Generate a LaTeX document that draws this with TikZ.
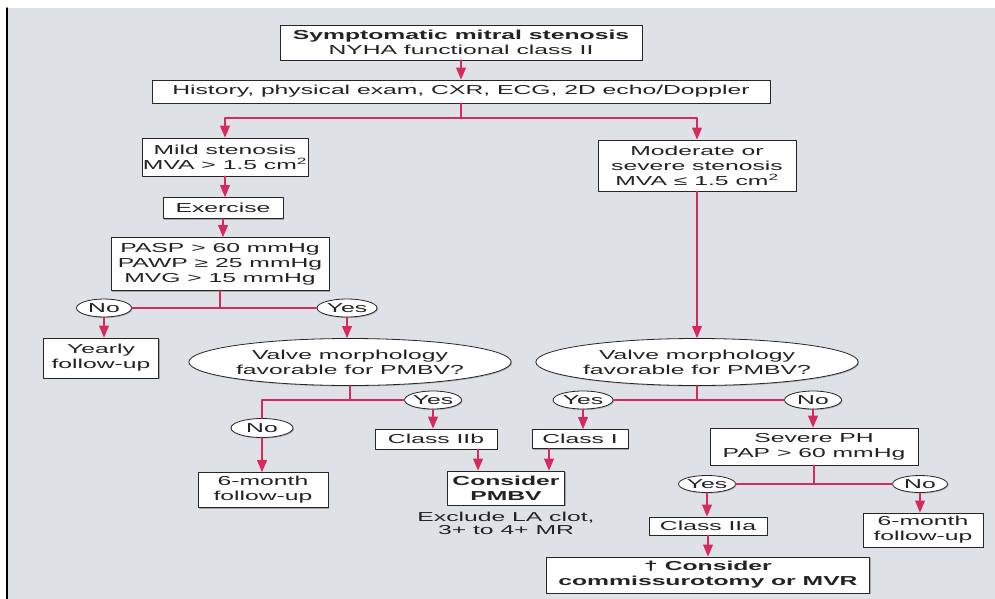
\documentclass[tikz,border=0pt]{standalone}
\usepackage{fontspec}
\setmainfont{Liberation Sans}[FakeStretch=1.9]
\usetikzlibrary{arrows}
\usetikzlibrary{shapes.geometric,shadows}
\definecolor{mvred}{RGB}{214,42,92}
\definecolor{mvbg}{RGB}{222,226,231}
\definecolor{mvink}{RGB}{35,35,35}
\tikzset{
  box/.style={draw=black!85,fill=white,line width=0.8pt,text=mvink,align=center,inner sep=1pt,
    font=\fontsize{13}{15}\selectfont,
    drop shadow={shadow xshift=1.2pt,shadow yshift=-1.2pt,fill=black!45,opacity=0.7}},
  oval/.style={ellipse,draw=black!85,fill=white,line width=0.8pt,text=mvink,align=center,inner sep=0pt,
    font=\fontsize{13}{15}\selectfont,
    drop shadow={shadow xshift=1pt,shadow yshift=-1pt,fill=black!45,opacity=0.6}},
  link/.style={draw=mvred,line width=1.8pt}
}
\begin{document}
\begin{tikzpicture}[line cap=round,line join=round,>=triangle 45,x=1.0pt,y=-1.0pt]
      \useasboundingbox (0,0) rectangle (995,599);
      \fill[white] (0,0) rectangle (995,599);
      \fill[mvbg] (8,8) rectangle (995,599);
      \draw[line width=1.5pt] (7,8) -- (7,599);
      % top of the chart
      \node[box,minimum width=362pt,minimum height=35pt] (top) at (461,42.5) {\textbf{Symptomatic mitral stenosis}\\NYHA functional class II};
      \node[box,minimum width=618pt,minimum height=23pt] (hist) at (461,91.5) {History, physical exam, CXR, ECG, 2D echo/Doppler};
      \node[box,minimum width=164pt,minimum height=38pt] (mild) at (225,157) {Mild stenosis\\MVA > 1.5 cm\textsuperscript{2}};
      \node[box,minimum width=198pt,minimum height=51pt] (moder) at (697,165.5) {Moderate or\\severe stenosis\\MVA ≤ 1.5 cm\textsuperscript{2}};
      % left branch
      \node[box,minimum width=120pt,minimum height=21pt] (exer) at (223,208) {Exercise};
      \node[box,minimum width=218pt,minimum height=53pt] (pasp) at (220,264) {PASP > 60 mmHg\\PAWP ≥ 25 mmHg\\MVG > 15 mmHg};
      \node[oval,minimum width=55pt,minimum height=18pt] (noA) at (104,308) {No};
      \node[oval,minimum width=60pt,minimum height=18pt] (yesA) at (347,308) {Yes};
      \node[box,minimum width=115pt,minimum height=40pt] (yearly) at (101,358) {Yearly\\follow-up};
      \node[oval,minimum width=294pt,minimum height=47pt] (valveL) at (350,362) {Valve morphology\\favorable for PMBV?};
      \node[oval,minimum width=62pt,minimum height=19pt] (noB) at (262,428) {No};
      \node[oval,minimum width=52pt,minimum height=18pt] (yesB) at (433,400) {Yes};
      \node[box,minimum width=130pt,minimum height=35pt] (sixL) at (263,490) {6-month\\follow-up};
      \node[box,minimum width=122pt,minimum height=20pt] (clIIb) at (436,439) {Class IIb};
      \node[box,minimum width=117pt,minimum height=34pt] (pmbv) at (506,488) {\textbf{Consider}\\\textbf{PMBV}};
      \node[text=mvink,align=center,inner sep=0pt,font=\fontsize{13}{13.5}\selectfont] (excl) at (506,523.5) {Exclude LA clot,\\3+ to 4+ MR};
      % right branch
      \node[oval,minimum width=297pt,minimum height=47pt] (valveR) at (697,362) {Valve morphology\\favorable for PMBV?};
      \node[oval,minimum width=60pt,minimum height=18pt] (yesC) at (583,400) {Yes};
      \node[oval,minimum width=57pt,minimum height=18pt] (noC) at (813,400) {No};
      \node[box,minimum width=96pt,minimum height=19pt] (clI) at (580,439) {Class I};
      \node[box,minimum width=208pt,minimum height=37pt] (sevPH) at (814,446.5) {Severe PH\\PAP > 60 mmHg};
      \node[oval,minimum width=57pt,minimum height=17pt] (yesD) at (707,484) {Yes};
      \node[oval,minimum width=55pt,minimum height=17pt] (noD) at (920,484) {No};
      \node[box,minimum width=118pt,minimum height=18pt] (clIIa) at (708,526) {Class IIa};
      \node[box,minimum width=120pt,minimum height=34pt] (sixR) at (923,530) {6-month\\follow-up};
      \node[box,minimum width=323pt,minimum height=36pt] (comm) at (708,575) {\textbf{† Consider}\\\textbf{commissurotomy or MVR}};
      % connectors
      \coordinate (jTop) at (461,118);
      \coordinate (jL) at (262,400);
      \draw[link,->] (top.south) -- (top.south |- hist.north);
      \draw[link] (hist.south) -- (jTop);
      \draw[link,->] (jTop) -| (mild.north);
      \draw[link,->] (jTop) -| (moder.north);
      \draw[link,->] (mild.south) -- (mild.south |- exer.north);
      \draw[link,->] (exer.south) -- (exer.south |- pasp.north);
      \draw[link] (pasp.south) -- (pasp.south |- noA.east);
      \draw[link] (noA) -- (yesA);
      \draw[link,->] (noA.south) -- (noA.south |- yearly.north);
      \draw[link,->] (yesA.south) -- (yesA.south |- valveL.north);
      \draw[link] (valveL.south) -- (valveL.south |- jL);
      \draw[link] (yesB) -- (jL) -- (noB);
      \draw[link,->] (noB.south) -- (noB.south |- sixL.north);
      \draw[link,->] (yesB.south) -- (yesB.south |- clIIb.north);
      \draw[link,->] ([xshift=42pt]clIIb.south) -- ([xshift=-28pt]pmbv.north);
      \draw[link,->] (moder.south) -- (moder.south |- valveR.north);
      \draw[link] (valveR.south) -- (valveR.south |- yesC.east);
      \draw[link] (yesC) -- (noC);
      \draw[link,->] (yesC.south) -- (yesC.south |- clI.north);
      \draw[link,->] ([xshift=-31pt]clI.south) -- ([xshift=43pt]pmbv.north);
      \draw[link,->] (noC.south) -- (noC.south |- sevPH.north);
      \draw[link] (sevPH.south) -- (sevPH.south |- yesD.east);
      \draw[link] (yesD) -- (noD);
      \draw[link,->] (yesD.south) -- (yesD.south |- clIIa.north);
      \draw[link,->] (noD.south) -- (noD.south |- sixR.north);
      \draw[link,->] (clIIa.south) -- (clIIa.south |- comm.north);
\end{tikzpicture}
\end{document}
